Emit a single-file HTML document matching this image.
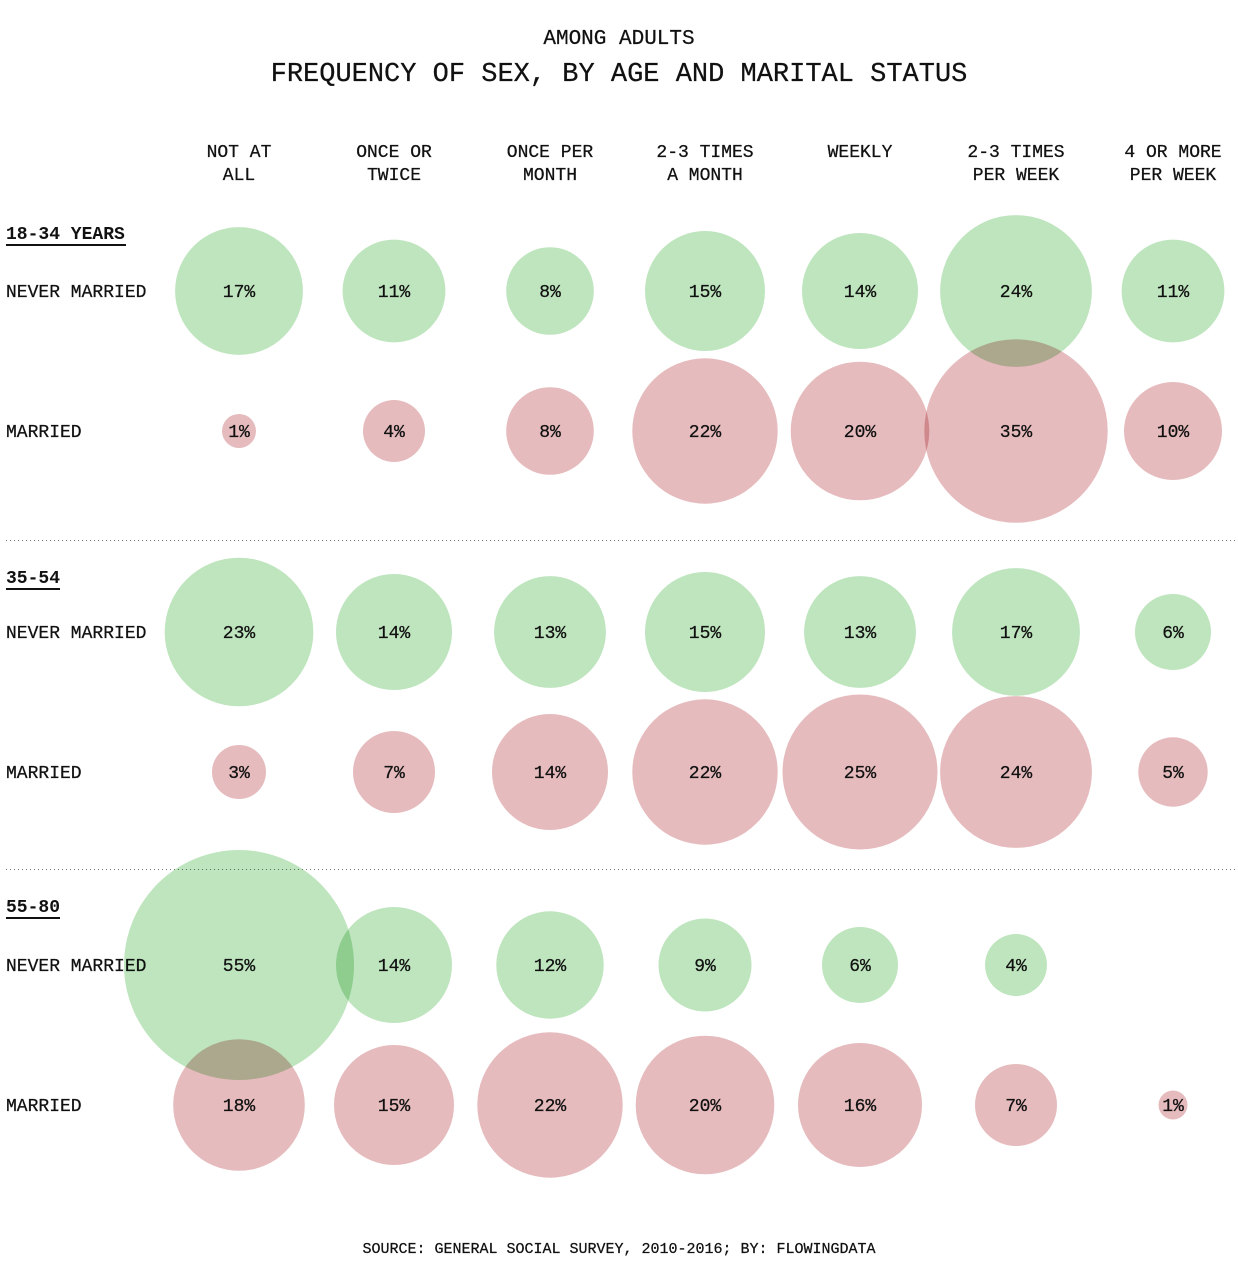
<!DOCTYPE html>
<html><head><meta charset="utf-8"><style>
html,body{margin:0;padding:0;background:#fff;}
svg{display:block;}
text{font-family:"Liberation Mono",monospace;fill:#111;stroke:#111;stroke-width:0.25px;}
.g{fill:#bee5be;mix-blend-mode:multiply;}
.r{fill:#e6bbbd;mix-blend-mode:multiply;}
.h{font-size:18px;text-anchor:middle;}
.p{font-size:18px;text-anchor:middle;}
.l{font-size:18px;}
.b{font-size:18px;font-weight:bold;stroke-width:0;}
</style></head><body>
<svg width="1238" height="1280" viewBox="0 0 1238 1280" xmlns="http://www.w3.org/2000/svg">
<rect width="1238" height="1280" fill="#fff"/>
<text x="619" y="44" style="font-size:21px" text-anchor="middle">AMONG ADULTS</text>
<text x="619" y="81" style="font-size:27px" text-anchor="middle">FREQUENCY OF SEX, BY AGE AND MARITAL STATUS</text>

<g class="h">
<text class="h" x="239" y="157">NOT AT</text><text class="h" x="239" y="180">ALL</text>
<text class="h" x="394" y="157">ONCE OR</text><text class="h" x="394" y="180">TWICE</text>
<text class="h" x="550" y="157">ONCE PER</text><text class="h" x="550" y="180">MONTH</text>
<text class="h" x="705" y="157">2-3 TIMES</text><text class="h" x="705" y="180">A MONTH</text>
<text class="h" x="860" y="157">WEEKLY</text>
<text class="h" x="1016" y="157">2-3 TIMES</text><text class="h" x="1016" y="180">PER WEEK</text>
<text class="h" x="1173" y="157">4 OR MORE</text><text class="h" x="1173" y="180">PER WEEK</text>
</g>

<text class="b" x="6" y="239">18-34 YEARS</text>
<rect x="6" y="244" width="120" height="2" fill="#111"/>
<text class="l" x="6" y="297">NEVER MARRIED</text>
<text class="l" x="6" y="437">MARRIED</text>

<text class="b" x="6" y="583">35-54</text>
<rect x="6" y="588" width="54" height="2" fill="#111"/>
<text class="l" x="6" y="638">NEVER MARRIED</text>
<text class="l" x="6" y="778">MARRIED</text>

<text class="b" x="6" y="912">55-80</text>
<rect x="6" y="917" width="54" height="2" fill="#111"/>
<text class="l" x="6" y="971">NEVER MARRIED</text>
<text class="l" x="6" y="1111">MARRIED</text>

<line x1="6" y1="540.5" x2="1238" y2="540.5" stroke="#777" stroke-width="1" stroke-dasharray="1,3"/>
<line x1="6" y1="869.5" x2="1238" y2="869.5" stroke="#777" stroke-width="1" stroke-dasharray="1,3"/>

<!-- group 1 -->
<circle class="g" cx="239" cy="291" r="63.9"/>
<circle class="g" cx="394" cy="291" r="51.4"/>
<circle class="g" cx="550" cy="291" r="43.8"/>
<circle class="g" cx="705" cy="291" r="60"/>
<circle class="g" cx="860" cy="291" r="58"/>
<circle class="g" cx="1016" cy="291" r="75.9"/>
<circle class="g" cx="1173" cy="291" r="51.4"/>
<circle class="r" cx="239" cy="431" r="17"/>
<circle class="r" cx="394" cy="431" r="31"/>
<circle class="r" cx="550" cy="431" r="43.8"/>
<circle class="r" cx="705" cy="431" r="72.7"/>
<circle class="r" cx="860" cy="431" r="69.3"/>
<circle class="r" cx="1016" cy="431" r="91.7"/>
<circle class="r" cx="1173" cy="431" r="49"/>

<!-- group 2 -->
<circle class="g" cx="239" cy="632" r="74.3"/>
<circle class="g" cx="394" cy="632" r="58"/>
<circle class="g" cx="550" cy="632" r="55.9"/>
<circle class="g" cx="705" cy="632" r="60"/>
<circle class="g" cx="860" cy="632" r="55.9"/>
<circle class="g" cx="1016" cy="632" r="63.9"/>
<circle class="g" cx="1173" cy="632" r="38"/>
<circle class="r" cx="239" cy="772" r="27"/>
<circle class="r" cx="394" cy="772" r="41"/>
<circle class="r" cx="550" cy="772" r="58"/>
<circle class="r" cx="705" cy="772" r="72.7"/>
<circle class="r" cx="860" cy="772" r="77.5"/>
<circle class="r" cx="1016" cy="772" r="75.9"/>
<circle class="r" cx="1173" cy="772" r="34.7"/>

<!-- group 3 -->
<circle class="g" cx="239" cy="965" r="115"/>
<circle class="g" cx="394" cy="965" r="58"/>
<circle class="g" cx="550" cy="965" r="53.7"/>
<circle class="g" cx="705" cy="965" r="46.5"/>
<circle class="g" cx="860" cy="965" r="38"/>
<circle class="g" cx="1016" cy="965" r="31"/>
<circle class="r" cx="239" cy="1105" r="65.8"/>
<circle class="r" cx="394" cy="1105" r="60"/>
<circle class="r" cx="550" cy="1105" r="72.7"/>
<circle class="r" cx="705" cy="1105" r="69.3"/>
<circle class="r" cx="860" cy="1105" r="62"/>
<circle class="r" cx="1016" cy="1105" r="41"/>
<circle class="r" cx="1173" cy="1105" r="14.5"/>

<!-- percent labels -->
<text class="p" x="239" y="297">17%</text>
<text class="p" x="394" y="297">11%</text>
<text class="p" x="550" y="297">8%</text>
<text class="p" x="705" y="297">15%</text>
<text class="p" x="860" y="297">14%</text>
<text class="p" x="1016" y="297">24%</text>
<text class="p" x="1173" y="297">11%</text>
<text class="p" x="239" y="437">1%</text>
<text class="p" x="394" y="437">4%</text>
<text class="p" x="550" y="437">8%</text>
<text class="p" x="705" y="437">22%</text>
<text class="p" x="860" y="437">20%</text>
<text class="p" x="1016" y="437">35%</text>
<text class="p" x="1173" y="437">10%</text>

<text class="p" x="239" y="638">23%</text>
<text class="p" x="394" y="638">14%</text>
<text class="p" x="550" y="638">13%</text>
<text class="p" x="705" y="638">15%</text>
<text class="p" x="860" y="638">13%</text>
<text class="p" x="1016" y="638">17%</text>
<text class="p" x="1173" y="638">6%</text>
<text class="p" x="239" y="778">3%</text>
<text class="p" x="394" y="778">7%</text>
<text class="p" x="550" y="778">14%</text>
<text class="p" x="705" y="778">22%</text>
<text class="p" x="860" y="778">25%</text>
<text class="p" x="1016" y="778">24%</text>
<text class="p" x="1173" y="778">5%</text>

<text class="p" x="239" y="971">55%</text>
<text class="p" x="394" y="971">14%</text>
<text class="p" x="550" y="971">12%</text>
<text class="p" x="705" y="971">9%</text>
<text class="p" x="860" y="971">6%</text>
<text class="p" x="1016" y="971">4%</text>
<text class="p" x="239" y="1111">18%</text>
<text class="p" x="394" y="1111">15%</text>
<text class="p" x="550" y="1111">22%</text>
<text class="p" x="705" y="1111">20%</text>
<text class="p" x="860" y="1111">16%</text>
<text class="p" x="1016" y="1111">7%</text>
<text class="p" x="1173" y="1111">1%</text>

<text x="619" y="1253" style="font-size:15px" text-anchor="middle">SOURCE: GENERAL SOCIAL SURVEY, 2010-2016; BY: FLOWINGDATA</text>
</svg>
</body></html>
